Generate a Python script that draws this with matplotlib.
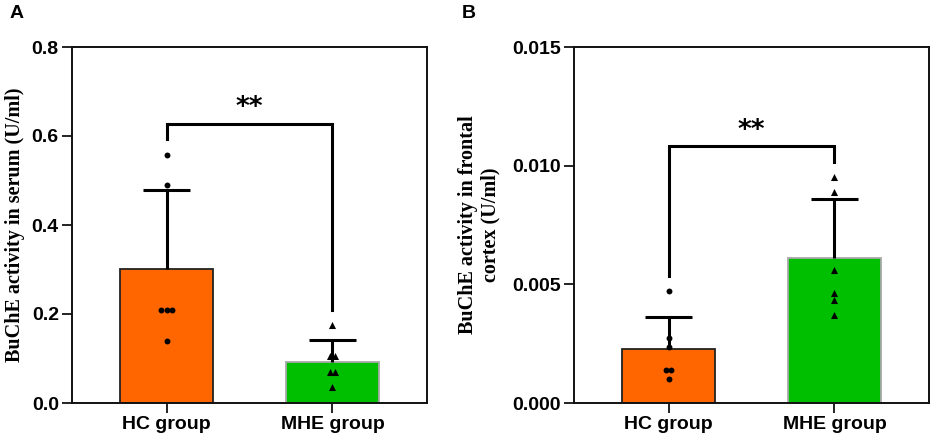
import numpy as np
import matplotlib
matplotlib.use("Agg")
import matplotlib.pyplot as plt

# ---- data ----
groups = ["HC group", "MHE group"]
serum_hc = [0.558, 0.489, 0.209, 0.209, 0.209, 0.139]
serum_mhe = [0.175, 0.105, 0.105, 0.070, 0.070, 0.036]
serum_mean = [0.302, 0.093]
serum_sd = [0.177, 0.048]
cortex_hc = [0.00471, 0.00273, 0.00235, 0.00139, 0.00139, 0.00101]
cortex_mhe = [0.00954, 0.00887, 0.00559, 0.00462, 0.00433, 0.00370]
cortex_mean = [0.00226, 0.00611]
cortex_sd = [0.00137, 0.00247]
yticks_a = [0.0, 0.2, 0.4, 0.6, 0.8]
yticks_b = [0.000, 0.005, 0.010, 0.015]
ylabel_a = "BuChE activity in serum (U/ml)"
ylabel_b = "BuChE activity in frontal\ncortex (U/ml)"
sig_label = "**"

bar_colors = ["#FF6600", "#00BF00"]
edge_colors = ["#222222", "#A8A8A8"]
markers = ["o", "^"]

W, H = 935, 442
fig = plt.figure(figsize=(W / 100, H / 100), dpi=100)

tick_font = dict(family="Liberation Sans", weight="bold", size=14)
label_font = dict(family="Liberation Serif", weight="bold", size=14.5)

BAR_W = 0.565
CAP_W = 0.28


def spread(vals, step):
    vals = np.asarray(vals, float)
    offs = np.zeros_like(vals)
    used = np.zeros(len(vals), bool)
    for i in range(len(vals)):
        if used[i]:
            continue
        idx = [j for j in range(len(vals)) if not used[j] and np.isclose(vals[j], vals[i], rtol=1e-6)]
        n = len(idx)
        for k, j in enumerate(idx):
            offs[j] = (k - (n - 1) / 2) * step
            used[j] = True
    return offs


def panel(rect, means, sds, pts, yticks, ylim, ylabel, fmt, bracket, letter,
          letter_x, labelpad):
    ax = fig.add_axes(rect)
    x = np.arange(len(means))
    ax.bar(x, means, width=BAR_W, color=bar_colors, edgecolor=edge_colors,
           linewidth=1.3, zorder=2)
    tops = np.asarray(means) + np.asarray(sds)
    ax.vlines(x, means, tops, color="black", lw=2.2, zorder=3)
    ax.hlines(tops, x - CAP_W / 2, x + CAP_W / 2, color="black", lw=2.2, zorder=3)
    for xi, p, mk in zip(x, pts, markers):
        offs = spread(p, 0.032)
        ax.scatter(xi + offs, p, marker=mk, s=18 if mk == "o" else 26,
                   color="black", zorder=4, linewidths=0)
    # significance bracket
    yl, yr, ytop = bracket
    ax.plot([0, 0, 1, 1], [yl, ytop, ytop, yr], color="black", lw=2.2,
            solid_joinstyle="miter", zorder=5, clip_on=False)
    ax.text(0.5, ytop + (ylim[1] - ylim[0]) * 0.006, sig_label, ha="center",
            va="bottom", fontsize=19, fontweight="bold", family="DejaVu Sans")
    ax.set_xlim(-0.57, 1.57)
    ax.set_ylim(*ylim)
    ax.set_yticks(yticks)
    ax.set_yticklabels([fmt.format(v) for v in yticks], **tick_font)
    ax.set_xticks(x)
    ax.set_xticklabels(groups, **tick_font)
    for sp in ax.spines.values():
        sp.set_linewidth(1.4)
        sp.set_color("#111111")
    ax.tick_params(axis="both", width=1.3, length=7.5, color="#111111", pad=2)
    ax.set_ylabel(ylabel, labelpad=labelpad, **label_font)
    fig.text(letter_x, 1 - 14 / H, letter, ha="left", va="center",
             fontsize=14, fontweight="bold", family="Liberation Sans")
    return ax


rect_a = [72 / W, 39 / H, 355 / W, 356 / H]
rect_b = [574 / W, 39 / H, 355 / W, 356 / H]

panel(rect_a, serum_mean, serum_sd, [serum_hc, serum_mhe], yticks_a, (0, 0.8),
      ylabel_a, "{:.1f}", (0.594, 0.209, 0.628), "A", 10 / W, 5)
panel(rect_b, cortex_mean, cortex_sd, [cortex_hc, cortex_mhe], yticks_b, (0, 0.015),
      ylabel_b, "{:.3f}", (0.00534, 0.01017, 0.01084), "B", 462 / W, 8)

fig.savefig("out.png", dpi=100)
